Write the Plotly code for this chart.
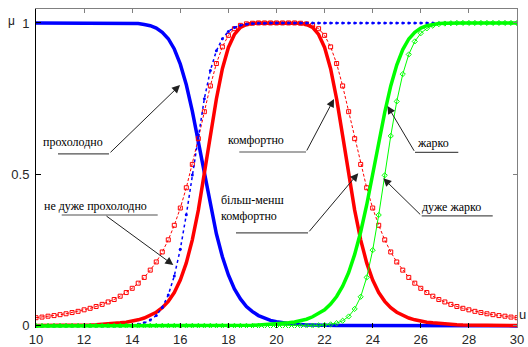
import plotly.graph_objects as go

# x grid (temperature u), step 0.25
u = [10.0, 10.25, 10.5, 10.75, 11.0, 11.25, 11.5, 11.75, 12.0, 12.25, 12.5, 12.75,
     13.0, 13.25, 13.5, 13.75, 14.0, 14.25, 14.5, 14.75, 15.0, 15.25, 15.5, 15.75,
     16.0, 16.25, 16.5, 16.75, 17.0, 17.25, 17.5, 17.75, 18.0, 18.25, 18.5, 18.75,
     19.0, 19.25, 19.5, 19.75, 20.0, 20.25, 20.5, 20.75, 21.0, 21.25, 21.5, 21.75,
     22.0, 22.25, 22.5, 22.75, 23.0, 23.25, 23.5, 23.75, 24.0, 24.25, 24.5, 24.75,
     25.0, 25.25, 25.5, 25.75, 26.0, 26.25, 26.5, 26.75, 27.0, 27.25, 27.5, 27.75,
     28.0, 28.25, 28.5, 28.75, 29.0, 29.25, 29.5, 29.75, 30.0]

# прохолодно (blue thick)
cool = [1.000]*15 + [0.999,
        0.999, 0.998, 0.995, 0.991, 0.983, 0.969, 0.948, 0.914, 0.864, 0.796, 0.709, 0.607,
        0.500, 0.396, 0.304, 0.228, 0.168, 0.122, 0.089, 0.064, 0.047, 0.034, 0.025, 0.018,
        0.014, 0.010, 0.008, 0.006, 0.004, 0.003, 0.003, 0.002, 0.002, 0.001, 0.001, 0.001,
        0.001] + [0.000]*28

# не дуже прохолодно (blue dotted)
not_very_cool = [0.000]*15 + [
        0.001, 0.002, 0.005, 0.010, 0.019, 0.034, 0.061, 0.102, 0.165, 0.253, 0.367, 0.498,
        0.631, 0.750, 0.843, 0.908, 0.948, 0.972, 0.985, 0.992, 0.996, 0.998, 0.999, 0.999
        ] + [1.000]*42

# комфортно (red thick)
comfort = [0.001, 0.001, 0.001, 0.001, 0.001, 0.002, 0.002, 0.002, 0.003, 0.003, 0.004, 0.005,
           0.006, 0.008, 0.010, 0.012, 0.015, 0.020, 0.026, 0.034, 0.045, 0.060, 0.081, 0.110,
           0.151, 0.208, 0.284, 0.382, 0.500, 0.628, 0.749, 0.849, 0.919, 0.962, 0.985, 0.995,
           0.999, 1.000, 1.000, 1.000, 1.000, 1.000, 1.000, 1.000, 0.999, 0.995, 0.985, 0.962,
           0.919, 0.849, 0.749, 0.628, 0.500, 0.382, 0.284, 0.208, 0.151, 0.110, 0.081, 0.060,
           0.045, 0.034, 0.026, 0.020, 0.015, 0.012, 0.010, 0.008, 0.006, 0.005, 0.004, 0.003,
           0.003, 0.002, 0.002, 0.002, 0.001, 0.001, 0.001, 0.001, 0.001]

# більш-менш комфортно (red dashed, squares)
more_less_comfort = [0.027, 0.029, 0.032, 0.034, 0.037, 0.040, 0.044, 0.048, 0.053, 0.058, 0.064, 0.071,
           0.079, 0.087, 0.098, 0.110, 0.124, 0.141, 0.160, 0.184, 0.211, 0.244, 0.284, 0.332,
           0.389, 0.456, 0.533, 0.618, 0.707, 0.792, 0.866, 0.921, 0.959, 0.981, 0.992, 0.997,
           0.999, 1.000, 1.000, 1.000, 1.000, 1.000, 1.000, 1.000, 0.999, 0.997, 0.992, 0.981,
           0.959, 0.921, 0.866, 0.792, 0.707, 0.618, 0.533, 0.456, 0.389, 0.332, 0.284, 0.244,
           0.211, 0.184, 0.160, 0.141, 0.124, 0.110, 0.098, 0.087, 0.079, 0.071, 0.064, 0.058,
           0.053, 0.048, 0.044, 0.040, 0.037, 0.034, 0.032, 0.029, 0.027]

# жарко (green thick)
hot = [0.000]*30 + [
       0.001, 0.001, 0.001, 0.001, 0.002, 0.002, 0.002, 0.003, 0.004, 0.005, 0.006, 0.008,
       0.010, 0.013, 0.017, 0.022, 0.030, 0.040, 0.053, 0.072, 0.097, 0.131, 0.176, 0.236,
       0.310, 0.399, 0.500, 0.605, 0.705, 0.792, 0.861, 0.912, 0.947, 0.969, 0.983, 0.991,
       0.996, 0.998, 0.999] + [1.000]*12

# дуже жарко (green thin)
very_hot = [0.000]*45 + [
       0.001, 0.001, 0.002, 0.003, 0.005, 0.009, 0.017, 0.031, 0.056, 0.096, 0.160, 0.250,
       0.366, 0.497, 0.627, 0.741, 0.831, 0.896, 0.939, 0.966, 0.982, 0.991, 0.996, 0.998,
       0.999] + [1.000]*11

for s in (cool, not_very_cool, comfort, more_less_comfort, hot, very_hot):
    assert len(s) == len(u), len(s)

y_ticks = [0, 0.5, 1]
y_ticktext = ["0", "0.5", "1"]
x_ticks = [10, 12, 14, 16, 18, 20, 22, 24, 26, 28, 30]

BLUE, RED, GREEN = "#0000ff", "#ff0000", "#00ff00"

fig = go.Figure()
fig.add_trace(go.Scatter(x=u, y=cool, mode="lines", line=dict(color=BLUE, width=3.5)))
fig.add_trace(go.Scatter(x=u, y=comfort, mode="lines", line=dict(color=RED, width=3.5)))
fig.add_trace(go.Scatter(x=u, y=more_less_comfort, mode="lines+markers",
                         line=dict(color=RED, width=1, dash="3px,2px"),
                         marker=dict(symbol="square-open", size=4, color=RED, line=dict(width=1))))
fig.add_trace(go.Scatter(x=u, y=not_very_cool, mode="lines+markers",
                         line=dict(color=BLUE, width=1.5, dash="dot"),
                         marker=dict(symbol="circle", size=3, color=BLUE)))
fig.add_trace(go.Scatter(x=u, y=hot, mode="lines", line=dict(color=GREEN, width=3.5)))
fig.add_trace(go.Scatter(x=u, y=very_hot, mode="lines+markers",
                         line=dict(color=GREEN, width=1),
                         marker=dict(symbol="diamond-open", size=4, color=GREEN, line=dict(width=1))))
# empty trace to activate the mirrored (top/right) frame axes
fig.add_trace(go.Scatter(x=[], y=[], xaxis="x2", yaxis="y2", hoverinfo="skip"))

# labels: (text, text_x, text_y, anchor, underline x0, x1, y, leader start x, tip x, tip y)
labels = [
    ("прохолодно", 11.518, 0.606, "center", 10.915, 13.035, 0.568, 13.035, 15.988, 0.795),
    ("не дуже прохолодно", 12.482, 0.397, "center", 11.069, 15.06, 0.366, 12.869, 15.709, 0.201),
    ("комфортно", 19.139, 0.614, "center", 18.453, 21.227, 0.574, 21.227, 22.391, 0.749),
    ("більш-менш<br>комфортно", 17.622, 0.388, "left", 18.316, 21.31, 0.307, 21.31, 23.40, 0.504),
    ("жарко", 26.487, 0.603, "center", 25.759, 27.559, 0.573, 25.759, 24.615, 0.726),
    ("дуже жарко", 27.285, 0.394, "center", 26.037, 28.99, 0.363, 26.037, 24.441, 0.487),
]
for (txt, tx, ty, anc, ux0, ux1, uy, lx, px, py) in labels:
    fig.add_shape(type="line", xref="x", yref="y", x0=ux0, x1=ux1, y0=uy, y1=uy,
                  line=dict(color="#505050", width=1.2))
    fig.add_annotation(x=px, y=py, ax=lx, ay=uy, xref="x", yref="y", axref="x", ayref="y",
                       text="", showarrow=True, arrowhead=2, arrowsize=1.6, arrowwidth=1,
                       arrowcolor="#202020", standoff=0, startstandoff=0)
    fig.add_annotation(x=tx, y=ty, xref="x", yref="y", text=txt, showarrow=False,
                       xanchor=anc, align="left",
                       font=dict(family="Liberation Serif", size=12, color="#000000"))

fig.add_annotation(x=-0.062, y=1.007, xref="paper", yref="y", text="μ", showarrow=False,
                   font=dict(family="Liberation Sans", size=12, color="#222222"))
fig.add_annotation(x=1.0225, y=0.036, xref="paper", yref="y", text="u", showarrow=False,
                   xanchor="right", font=dict(family="Liberation Sans", size=13, color="#222222"))

y_range = [-0.007, 1.046]
fig.update_layout(
    width=528, height=347,
    margin=dict(l=36, r=11, t=9, b=19, autoexpand=False),
    paper_bgcolor="white", plot_bgcolor="white",
    showlegend=False,
    font=dict(family="Liberation Sans", size=13, color="#262626"),
    xaxis=dict(range=[10, 30], tickvals=x_ticks, ticks="inside", ticklen=5, tickcolor="#000",
               showline=False, showgrid=False, zeroline=False, ticklabelstandoff=2,
               automargin=False),
    yaxis=dict(range=y_range, tickvals=y_ticks, ticktext=y_ticktext, ticks="inside", ticklen=5,
               tickcolor="#000", showline=True, linecolor="#000", linewidth=1,
               showgrid=False, zeroline=False, ticklabelstandoff=3, automargin=False),
    xaxis2=dict(range=[10, 30], overlaying="x", side="top", tickvals=x_ticks, ticks="inside",
                ticklen=4, tickcolor="#808080", showticklabels=False, showline=True,
                linecolor="#808080", showgrid=False, zeroline=False, automargin=False),
    yaxis2=dict(range=y_range, overlaying="y", side="right", tickvals=y_ticks, ticks="inside",
                ticklen=4, tickcolor="#808080", showticklabels=False, showline=True,
                linecolor="#808080", showgrid=False, zeroline=False, automargin=False),
)
fig.write_html("out.html", config={"displayModeBar": False},
               post_script="document.body.style.margin='0px';document.body.style.overflow='hidden';")
